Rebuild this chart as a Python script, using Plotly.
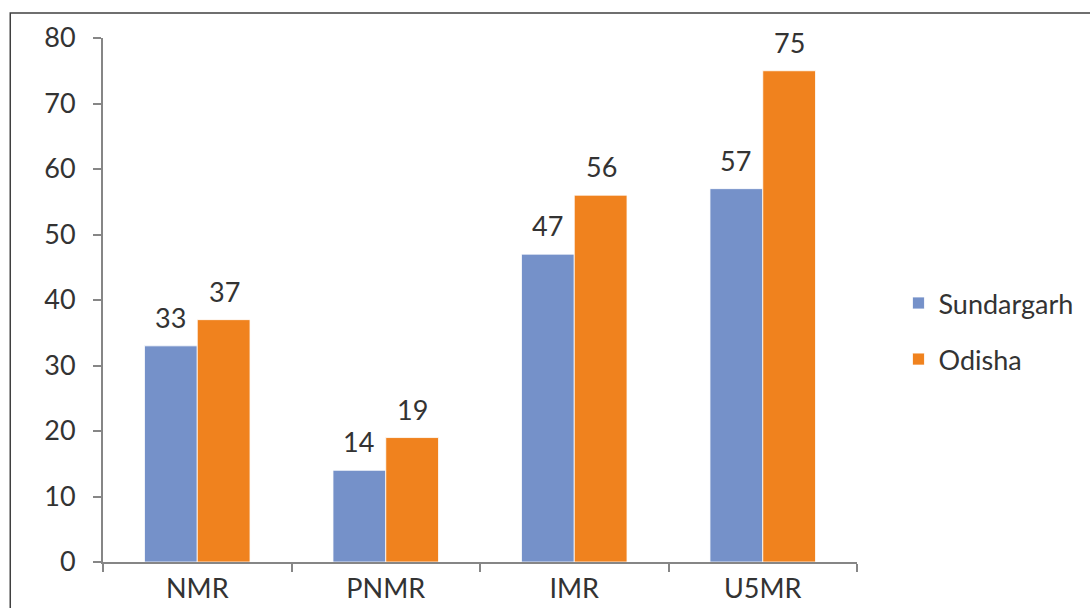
import plotly.graph_objects as go

# Mortality indicators (per 1000 live births)
categories = ["NMR", "PNMR", "IMR", "U5MR"]
sundargarh = [33, 14, 47, 57]
odisha = [37, 19, 56, 75]
y_ticks = [0, 10, 20, 30, 40, 50, 60, 70, 80]

blue = "#7591C9"
orange = "#F0821E"
text_col = "#333333"
axis_col = "#868686"
font_family = "Lato, Roboto, sans-serif"
fsize = 27

fig = go.Figure()
fig.add_trace(go.Bar(
    name="Sundargarh", x=categories, y=sundargarh,
    marker=dict(color=blue, line=dict(color="#FFFFFF", width=0.8)),
    legendgroup="a",
))
fig.add_trace(go.Bar(
    name="Odisha", x=categories, y=odisha,
    marker=dict(color=orange, line=dict(color="#FFFFFF", width=0.8)),
    legendgroup="b",
))

# value labels above each bar
annotations = []
for series, shift in ((sundargarh, -27), (odisha, 27)):
    for cat, val in zip(categories, series):
        annotations.append(dict(
            x=cat, y=val, xref="x", yref="y", text=str(val),
            showarrow=False, xshift=shift, yshift=10, yanchor="bottom",
            font=dict(size=fsize, color=text_col, family=font_family),
        ))

fig.update_layout(
    width=1090, height=608,
    margin=dict(l=103, r=231, t=38, b=46),
    paper_bgcolor="white", plot_bgcolor="white",
    barmode="group", bargap=0.44, bargroupgap=0,
    font=dict(family=font_family, size=fsize, color=text_col),
    annotations=annotations,
    legend=dict(
        x=1.055, y=0.44, xanchor="left", yanchor="middle",
        font=dict(size=fsize, color=text_col),
        traceorder="grouped", tracegroupgap=18,
        itemwidth=30,
    ),
    xaxis=dict(
        showline=True, linecolor=axis_col, linewidth=2,
        ticks="outside", ticklen=8, tickcolor=axis_col, tickwidth=2,
        tickson="boundaries", showgrid=False, automargin=False,
        tickfont=dict(size=fsize, color=text_col),
        ticklabelstandoff=2,
    ),
    yaxis=dict(
        range=[0, 80], tickvals=y_ticks, showline=True,
        linecolor=axis_col, linewidth=2,
        ticks="outside", ticklen=8, tickcolor=axis_col, tickwidth=2,
        showgrid=False, zeroline=False, automargin=False,
        tickfont=dict(size=fsize, color=text_col),
        ticklabelstandoff=12,
    ),
    shapes=[dict(
        type="rect", xref="paper", yref="paper",
        x0=-0.123, x1=1.6, y0=-0.3, y1=1.0477,
        line=dict(color="#404040", width=1.5), layer="below",
    )],
)

fig.write_html("out.html")
